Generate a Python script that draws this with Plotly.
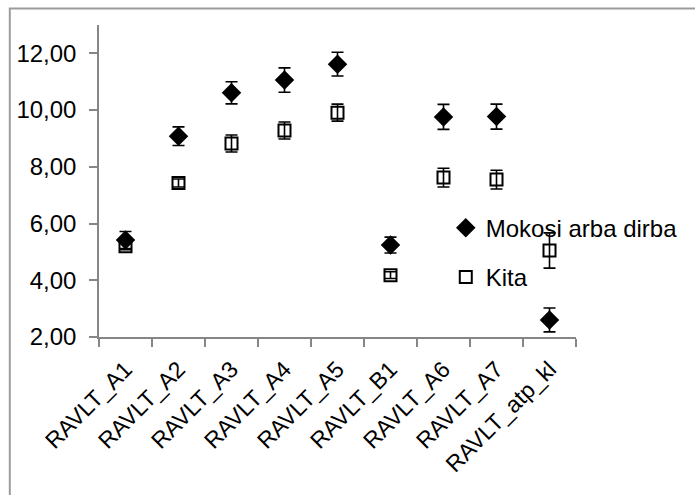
import plotly.graph_objects as go

categories = ["RAVLT_A1", "RAVLT_A2", "RAVLT_A3", "RAVLT_A4", "RAVLT_A5",
              "RAVLT_B1", "RAVLT_A6", "RAVLT_A7", "RAVLT_atp_kl"]
working = [5.42, 9.08, 10.61, 11.06, 11.62, 5.24, 9.76, 9.77, 2.60]
working_err = [0.30, 0.33, 0.39, 0.43, 0.42, 0.28, 0.44, 0.44, 0.42]
other = [5.20, 7.43, 8.82, 9.28, 9.91, 4.18, 7.62, 7.55, 5.05]
other_err = [0.12, 0.14, 0.30, 0.30, 0.30, 0.12, 0.33, 0.33, 0.62]
series_names = ["Mokosi arba dirba", "Kita"]
yticks = [2, 4, 6, 8, 10, 12]

FONT = "Liberation Sans"
AXIS_COLOR = "#868686"

fig = go.Figure()
fig.add_trace(go.Scatter(
    x=categories, y=working, name=series_names[0], mode="markers",
    marker=dict(symbol="diamond", size=15, color="black"),
    error_y=dict(type="data", array=working_err, visible=True,
                 color="black", thickness=1.6, width=6),
    legendgroup="a",
))
fig.add_trace(go.Scatter(
    x=categories, y=other, name=series_names[1], mode="markers",
    marker=dict(symbol="square-open", size=12, color="black",
                line=dict(color="black", width=2)),
    error_y=dict(type="data", array=other_err, visible=True,
                 color="black", thickness=1.6, width=6),
    legendgroup="b",
))

fig.update_layout(
    width=695, height=495,
    margin=dict(l=99, r=114, t=25, b=158),
    paper_bgcolor="white", plot_bgcolor="white",
    separators=", ",
    font=dict(family=FONT, color="black", size=24),
    showlegend=True,
    legend=dict(x=0.727, y=0.27, xanchor="left", yanchor="middle",
                bgcolor="rgba(0,0,0,0)", font=dict(size=24, family=FONT),
                tracegroupgap=15),
    xaxis=dict(
        type="category", categoryorder="array", categoryarray=categories,
        range=[-0.5, len(categories) - 0.5],
        showline=True, linecolor=AXIS_COLOR, linewidth=1.5,
        ticks="outside", ticklen=8, tickcolor=AXIS_COLOR, tickwidth=1.5,
        tickson="boundaries", tickangle=-45, ticklabelstandoff=8,
        tickfont=dict(size=23, family=FONT),
        showgrid=False, zeroline=False,
    ),
    yaxis=dict(
        range=[2, 13], tickvals=yticks, tickformat=".2f",
        showline=True, linecolor=AXIS_COLOR, linewidth=1.5,
        ticks="outside", ticklen=8, tickcolor=AXIS_COLOR, tickwidth=1.5,
        ticklabelstandoff=8,
        tickfont=dict(size=24, family=FONT),
        showgrid=False, zeroline=False,
    ),
    shapes=[dict(type="rect", xref="paper", yref="paper",
                 x0=-0.187, x1=1.4, y0=-0.7, y1=1.053,
                 line=dict(color="#9c9c9c", width=2), layer="below")],
)

fig.write_html("out.html")
